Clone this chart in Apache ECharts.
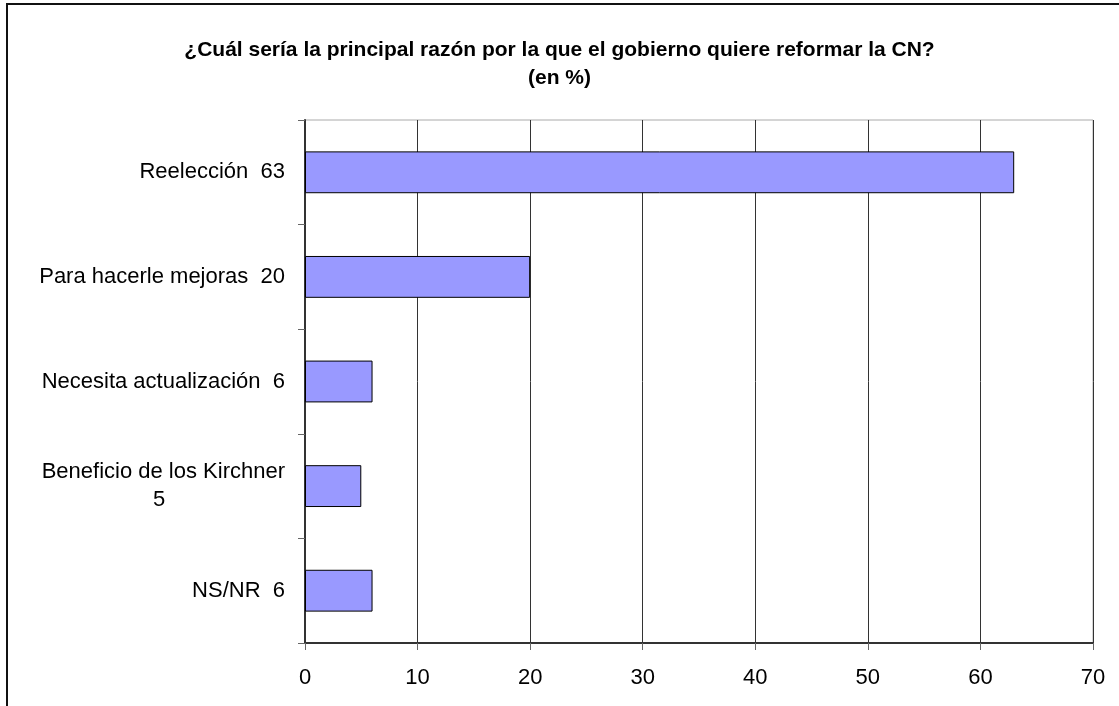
<!DOCTYPE html>
<html>
<head>
<meta charset="utf-8">
<script src="https://cdn.jsdelivr.net/npm/echarts@6/dist/echarts.min.js"></script>
<style>
html, body { margin: 0; padding: 0; background: #ffffff; }
#chart { width: 1119px; height: 706px; }
.frame { position: absolute; left: 6px; top: 3px; right: 0; bottom: 0; border-top: 2px solid #111; border-left: 2px solid #111; pointer-events: none; }
</style>
</head>
<body>
<div id="chart"></div>
<div class="frame"></div>
<script>
// datos
var categorias = ['Reelección', 'Para hacerle mejoras', 'Necesita actualización', 'Beneficio de los Kirchner', 'NS/NR']
var valores = [63, 20, 6, 5, 6]
var ticksX = [0, 10, 20, 30, 40, 50, 60, 70]

// la etiqueta larga va en dos lineas
var etiquetas = categorias.map(function (c, i) {
    if (c === 'Beneficio de los Kirchner') return '{a|' + c + '}\n{b|' + valores[i] + '}'
    return c + '  ' + valores[i]
})

var chart = echarts.init(document.getElementById('chart'))
chart.setOption({
    animation: false,
    title: {
        text: '¿Cuál sería la principal razón por la que el gobierno quiere reformar la CN?\n(en %)',
        left: 'center',
        top: 31,
        textStyle: {
            fontFamily: 'Liberation Sans',
            fontSize: 21,
            fontWeight: 'bold',
            color: '#000',
            lineHeight: 28
        }
    },
    grid: {
        left: 305,
        right: 26,
        top: 120,
        bottom: 63,
        show: true,
        borderColor: '#aaaaaa',
        borderWidth: 1
    },
    xAxis: {
        type: 'value',
        min: ticksX[0],
        max: ticksX[ticksX.length - 1],
        interval: 10,
        axisLine: { show: true, lineStyle: { color: '#333', width: 2 } },
        axisTick: { show: true, length: 7, lineStyle: { color: '#666' } },
        splitLine: { show: true, lineStyle: { color: '#333', width: 1 } },
        axisLabel: {
            margin: 24,
            fontFamily: 'Liberation Sans',
            fontSize: 22,
            color: '#000'
        }
    },
    yAxis: {
        type: 'category',
        inverse: true,
        data: etiquetas,
        axisLine: { show: true, lineStyle: { color: '#333', width: 2 } },
        axisTick: { show: true, length: 7, lineStyle: { color: '#666' } },
        axisLabel: {
            margin: 20,
            fontFamily: 'Liberation Sans',
            fontSize: 22,
            color: '#000',
            lineHeight: 28,
            rich: {
                a: { fontFamily: 'Liberation Sans', fontSize: 22, color: '#000', lineHeight: 28 },
                b: { fontFamily: 'Liberation Sans', fontSize: 22, color: '#000', lineHeight: 28, width: 252, align: 'center' }
            }
        }
    },
    series: [
        {
            type: 'bar',
            data: valores,
            barCategoryGap: '60%',
            itemStyle: {
                color: '#9999ff',
                borderColor: '#000',
                borderWidth: 1
            }
        }
    ]
})
</script>
</body>
</html>
